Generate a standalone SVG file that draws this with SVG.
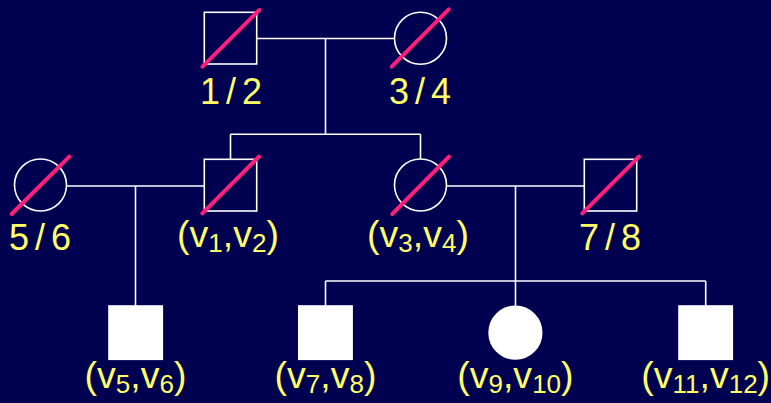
<svg xmlns="http://www.w3.org/2000/svg" width="771" height="403" viewBox="0 0 771 403">
<style>
.ln{stroke:#FFFFFF;stroke-width:1.6;fill:none}
.open{stroke:#FFFFFF;stroke-width:1.6;fill:none}
.aff{fill:#FFFFFF;stroke:#FFFFFF;stroke-width:1.6}
.dec{stroke:#FF1F7A;stroke-width:4;stroke-linecap:round}
.lbl{font-family:"Liberation Sans",Arial,sans-serif;font-size:36px;fill:#FFFF66;text-anchor:middle}
.vl{font-size:37.5px}
.frac{letter-spacing:6px}
.sub{font-size:26px}
</style>
<rect x="0" y="0" width="771" height="403" fill="#000050"/>
<g id="connectors">
<path class="ln" d="M257 38.5 H394"/>
<path class="ln" d="M325.5 38.5 V134.3"/>
<path class="ln" d="M230.5 134.3 H420.5 M230.5 134.3 V159.3 M420.5 134.3 V159"/>
<path class="ln" d="M66.7 186 H204.3"/>
<path class="ln" d="M135.5 186 V306"/>
<path class="ln" d="M446.7 186 H584.3"/>
<path class="ln" d="M515.5 186 V306"/>
<path class="ln" d="M325.5 281 H705.7 M325.5 281 V306 M705.7 281 V306"/>
</g>
<g id="n12">
<rect class="open" x="204.3" y="12.3" width="52.4" height="51.7"/>
<line class="dec" x1="202.5" y1="66.7" x2="259.3" y2="10"/>
<text class="lbl frac" x="234" y="103.5">1/2</text>
</g>
<g id="n34">
<circle class="open" cx="420.5" cy="38.2" r="26"/>
<line class="dec" x1="391.7" y1="66.7" x2="448.7" y2="9.3"/>
<text class="lbl frac" x="423" y="103.5">3/4</text>
</g>
<g id="n56">
<circle class="open" cx="40.5" cy="185" r="26"/>
<line class="dec" x1="11.7" y1="214" x2="69.3" y2="156.7"/>
<text class="lbl frac" x="43" y="250">5/6</text>
</g>
<g id="nv1v2">
<rect class="open" x="204.3" y="159.3" width="52.4" height="51.7"/>
<line class="dec" x1="202.3" y1="213.3" x2="259" y2="156.7"/>
<text class="lbl vl" x="228" y="246.7">(v<tspan class="sub" dy="5">1</tspan><tspan dy="-5">,v</tspan><tspan class="sub" dy="5">2</tspan><tspan dy="-5">)</tspan></text>
</g>
<g id="nv3v4">
<circle class="open" cx="420.5" cy="185" r="26"/>
<line class="dec" x1="392.3" y1="214" x2="449" y2="156.7"/>
<text class="lbl vl" x="418" y="246.7">(v<tspan class="sub" dy="5">3</tspan><tspan dy="-5">,v</tspan><tspan class="sub" dy="5">4</tspan><tspan dy="-5">)</tspan></text>
</g>
<g id="n78">
<rect class="open" x="584.3" y="159.3" width="52.4" height="51.7"/>
<line class="dec" x1="582.3" y1="213.3" x2="639" y2="156.7"/>
<text class="lbl frac" x="613" y="250">7/8</text>
</g>
<g id="nv5v6">
<rect class="aff" x="109" y="306" width="53.3" height="53.3"/>
<text class="lbl vl" x="135.5" y="388">(v<tspan class="sub" dy="5">5</tspan><tspan dy="-5">,v</tspan><tspan class="sub" dy="5">6</tspan><tspan dy="-5">)</tspan></text>
</g>
<g id="nv7v8">
<rect class="aff" x="298.8" y="306" width="53.3" height="53.3"/>
<text class="lbl vl" x="325.5" y="388">(v<tspan class="sub" dy="5">7</tspan><tspan dy="-5">,v</tspan><tspan class="sub" dy="5">8</tspan><tspan dy="-5">)</tspan></text>
</g>
<g id="nv9v10">
<circle class="aff" cx="515.4" cy="332.7" r="26.3"/>
<text class="lbl vl" x="515.4" y="388">(v<tspan class="sub" dy="5">9</tspan><tspan dy="-5">,v</tspan><tspan class="sub" dy="5">10</tspan><tspan dy="-5">)</tspan></text>
</g>
<g id="nv11v12">
<rect class="aff" x="679" y="306" width="53.3" height="53.3"/>
<text class="lbl vl" x="705.7" y="388">(v<tspan class="sub" dy="5">11</tspan><tspan dy="-5">,v</tspan><tspan class="sub" dy="5">12</tspan><tspan dy="-5">)</tspan></text>
</g>
</svg>
